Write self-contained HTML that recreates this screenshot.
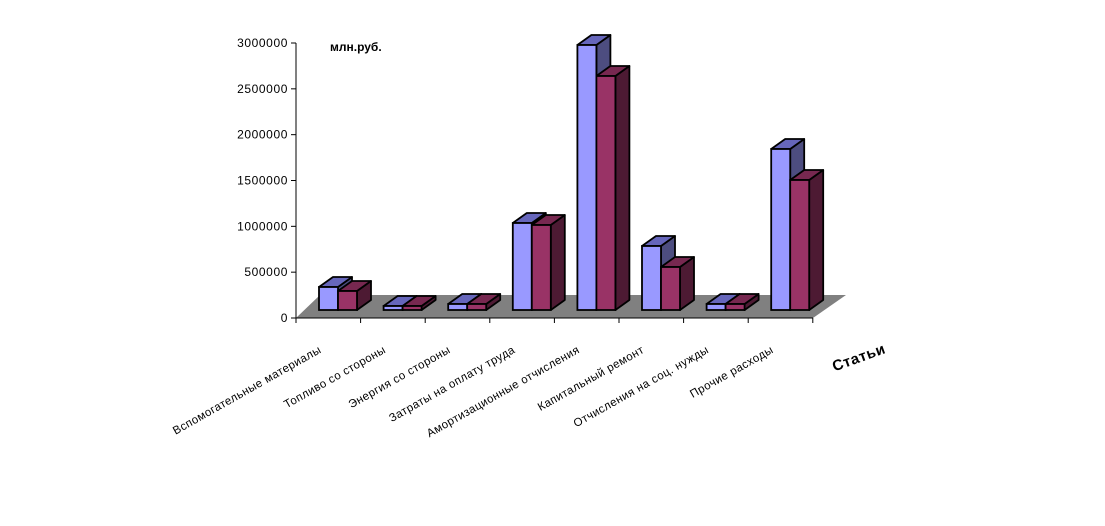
<!DOCTYPE html>
<html><head><meta charset="utf-8"><style>
html,body{margin:0;padding:0;background:#fff;width:1105px;height:526px;overflow:hidden}
svg{display:block;font-family:"Liberation Sans",Arial,sans-serif}
</style></head><body>
<svg id="s" width="1105" height="526" viewBox="0 0 1105 526">
<polygon points="296,318 813,318 846,295 320,295" fill="#808080"/>
<line x1="296" y1="43" x2="296" y2="318" stroke="#000" stroke-width="1"/>
<line x1="296" y1="318" x2="813" y2="318" stroke="#000" stroke-width="1"/>
<text x="330" y="51" font-size="12" font-weight="bold">млн.руб.</text>
<text x="830" y="366" font-size="15" font-weight="bold" letter-spacing="0.5" transform="rotate(-20 848 356)">Статьи</text>
</svg>
<script>
var s=document.getElementById('s'),NS='http://www.w3.org/2000/svg';
function el(t,a,txt){var e=document.createElementNS(NS,t);for(var k in a)e.setAttribute(k,a[k]);if(txt)e.textContent=txt;s.appendChild(e);return e;}
var yl=['0','500000','1000000','1500000','2000000','2500000','3000000'];
for(var i=0;i<7;i++){var y=318-i*275/6;el('line',{x1:291,y1:y,x2:296,y2:y,stroke:'#000'});el('text',{x:288,y:y+4,'font-size':12,'letter-spacing':0.6,'text-anchor':'end'},yl[i]);}
for(var i=0;i<9;i++){var x=296+i*64.6;el('line',{x1:x,y1:318,x2:x,y2:323,stroke:'#000'});}
var labs=['Вспомогательные материалы','Топливо со стороны','Энергия со стороны','Затраты на оплату труда','Амортизационные отчисления','Капитальный ремонт','Отчисления на соц. нужды','Прочие расходы'];
var tops=[[287,291],[306,306],[304,304],[223,225],[45,76],[246,267],[304,304],[149,180]];
var cols=[['#9999ff','#6666bb','#4d4d80'],['#993366','#772850','#4d1a33']];
var B=310,dx=14,dy=-10,w=19;
for(var i=0;i<8;i++){
 var x0=296+i*64.6+23;
 for(var j=0;j<2;j++){
  var x=x0+j*w,t=tops[i][j],c=cols[j];
  el('polygon',{points:[x+w,t,x+w+dx,t+dy,x+w+dx,B+dy,x+w,B].join(','),fill:c[2],stroke:'#000','stroke-width':1.8,'stroke-linejoin':'round'});
  el('polygon',{points:[x,t,x+dx,t+dy,x+w+dx,t+dy,x+w,t].join(','),fill:c[1],stroke:'#000','stroke-width':1.8,'stroke-linejoin':'round'});
  el('rect',{x:x,y:t,width:w,height:B-t,fill:c[0],stroke:'#000','stroke-width':1.8});
 }
 var cx=296+i*64.6+26;
 el('text',{x:cx,y:352,'font-size':11.5,'letter-spacing':0.4,'text-anchor':'end',transform:'rotate(-29.5 '+cx+' 352)'},labs[i]);
}
</script>
</body></html>
